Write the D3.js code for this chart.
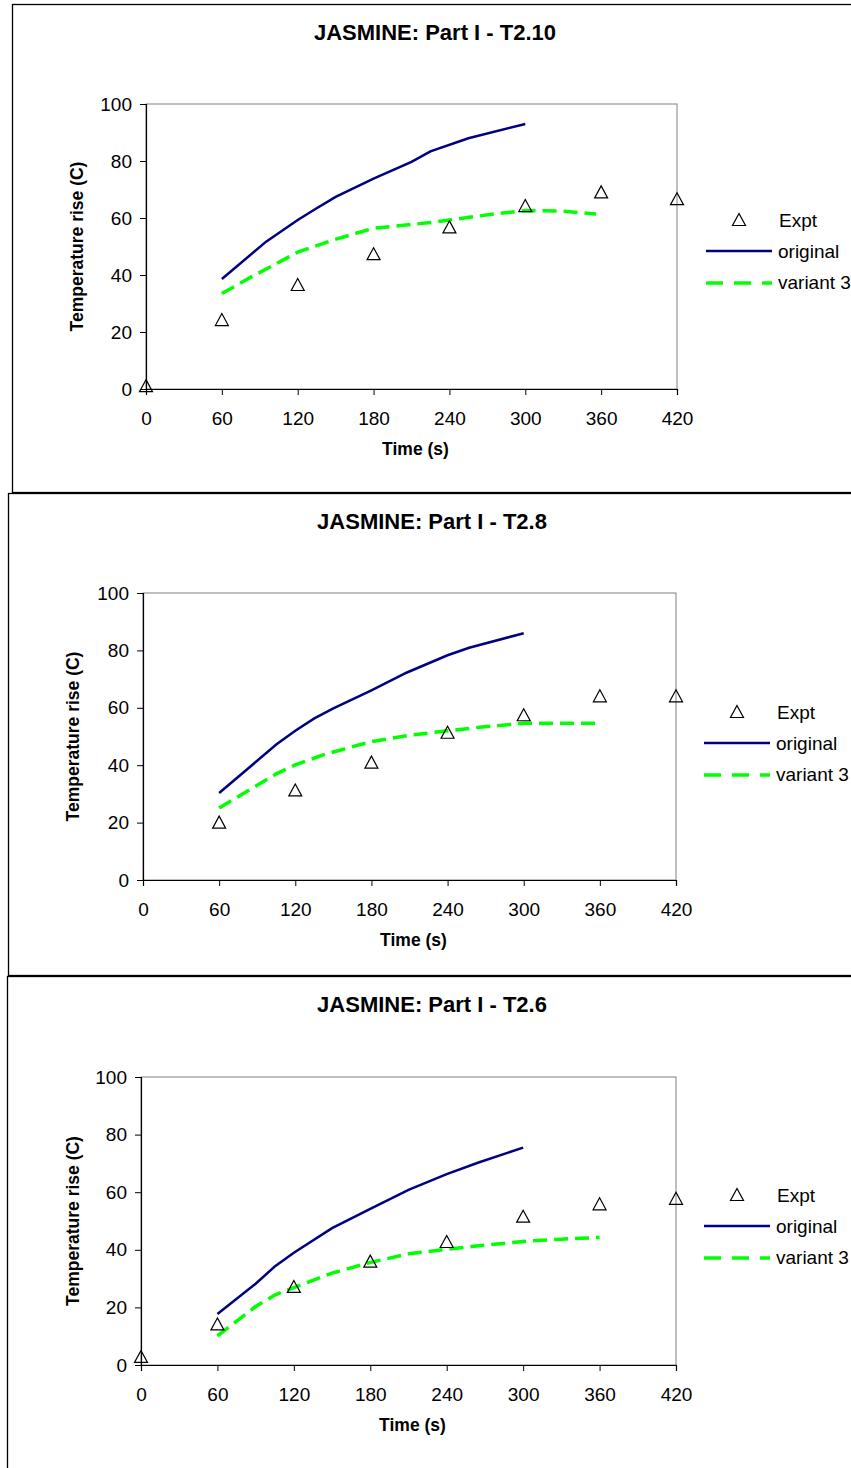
<!DOCTYPE html>
<html>
<head>
<meta charset="utf-8">
<script src="https://cdn.jsdelivr.net/npm/d3@7"></script>
<style>
  body { margin: 0; background: #fff; }
  text { font-family: "Liberation Sans", Arial, sans-serif; }
</style>
</head>
<body>
<div id="chart"></div>
<script>
// tick labels
var timeTicks = [0, 60, 120, 180, 240, 300, 360, 420];
var tempTicks = [0, 20, 40, 60, 80, 100];
var titles = ["JASMINE: Part I - T2.10", "JASMINE: Part I - T2.8", "JASMINE: Part I - T2.6"];
var seriesNames = ["Expt", "original", "variant 3"];

// T2.10
var exptTime1 = [0, 60, 120, 180, 240, 300, 360, 420];
var exptVal1  = [1, 24.2, 36.5, 47.3, 56.7, 64.2, 69, 66.6];
var origTime1 = [60, 95, 120, 135, 150, 180, 210, 225, 255, 300];
var origVal1  = [38.6, 51.7, 59.3, 63.4, 67.4, 73.8, 79.7, 83.4, 88, 93];
var varTime1  = [60, 82, 120, 148, 180, 225, 240, 275, 300, 330, 356];
var varVal1   = [33.5, 39, 48, 52.3, 56.4, 58.4, 59.3, 61.4, 62.6, 62.4, 61.4];

// T2.8
var exptTime2 = [60, 120, 180, 240, 300, 360, 420];
var exptVal2  = [20, 31.2, 40.9, 51.3, 57.4, 64, 64];
var origTime2 = [60, 105, 120, 135, 150, 180, 208, 240, 257, 300];
var origVal2  = [30.3, 47.2, 52, 56.3, 59.8, 66.1, 72.3, 78.3, 80.9, 86];
var varTime2  = [60, 90, 105, 120, 142, 168, 180, 208, 240, 265, 300, 360];
var varVal2   = [25.1, 33, 37, 40.1, 43.6, 46.8, 48.2, 50.3, 52, 53.2, 54.6, 54.6];

// T2.6
var exptTime3 = [0, 60, 120, 180, 240, 300, 360, 420];
var exptVal3  = [2.8, 14.1, 27.1, 35.9, 42.7, 51.5, 55.8, 57.7];
var origTime3 = [60, 90, 105, 120, 150, 180, 210, 240, 265, 300];
var origVal3  = [17.7, 28.2, 34.2, 39, 47.5, 54.2, 60.8, 66.3, 70.3, 75.5];
var varTime3  = [60, 90, 105, 120, 150, 180, 210, 240, 265, 300, 330, 360];
var varVal3   = [10.1, 20.3, 24.3, 26.9, 31.9, 35.6, 38.6, 40.2, 41.4, 42.9, 43.7, 44.3];

var panels = [
  {title: titles[0], expt: [exptTime1, exptVal1], orig: [origTime1, origVal1], vari: [varTime1, varVal1],
   box: {x: 12, y: 4, h: 488}, l: 146, t: 104, r: 677, b: 389, cx: 435, ylx: 77, leg: {x: 706, y: 220}},
  {title: titles[1], expt: [exptTime2, exptVal2], orig: [origTime2, origVal2], vari: [varTime2, varVal2],
   box: {x: 8, y: 493, h: 482}, l: 143, t: 593, r: 676, b: 880, cx: 432, ylx: 73, leg: {x: 704, y: 712}},
  {title: titles[2], expt: [exptTime3, exptVal3], orig: [origTime3, origVal3], vari: [varTime3, varVal3],
   box: {x: 7, y: 976, h: 520}, l: 141, t: 1077, r: 676, b: 1365, cx: 432, ylx: 73, leg: {x: 704, y: 1195}}
];

var svg = d3.select("#chart")
  .append("svg")
  .attr("width", 851)
  .attr("height", 1468);

var tri = "M0,-6.5L6.5,5.5L-6.5,5.5Z";

function zip(a) {
  return a[0].map(function(t, i) { return [t, a[1][i]]; });
}

panels.forEach(function(p) {
  var g = svg.append("g");

  // outer chart box
  g.append("rect")
    .attr("x", p.box.x + 0.5).attr("y", p.box.y + 0.5)
    .attr("width", 900).attr("height", p.box.h)
    .attr("fill", "#fff").attr("stroke", "#000").attr("stroke-width", 1.3);

  var x = d3.scaleLinear().domain([0, 420]).range([p.l, p.r]);
  var y = d3.scaleLinear().domain([0, 100]).range([p.b, p.t]);

  // plot area frame (grey)
  g.append("rect")
    .attr("x", p.l).attr("y", p.t)
    .attr("width", p.r - p.l).attr("height", p.b - p.t)
    .attr("fill", "none").attr("stroke", "#808080").attr("stroke-width", 1);

  var xAxis = g.append("g")
    .attr("transform", "translate(0," + p.b + ")")
    .call(d3.axisBottom(x).tickValues(timeTicks).tickSize(6).tickPadding(17));
  var yAxis = g.append("g")
    .attr("transform", "translate(" + p.l + ",0)")
    .call(d3.axisLeft(y).tickValues(tempTicks).tickSize(6).tickPadding(8));

  [xAxis, yAxis].forEach(function(ax) {
    ax.select(".domain").attr("stroke", "#000").attr("stroke-width", 1.2);
    ax.selectAll(".tick line").attr("stroke", "#000");
    ax.selectAll("text").style("font-size", "19px").attr("fill", "#000")
      .style("font-family", "'Liberation Sans', Arial, sans-serif");
  });

  // title + axis titles
  g.append("text")
    .attr("x", p.cx).attr("y", p.box.y + 36)
    .attr("text-anchor", "middle")
    .style("font-size", "22px").style("font-weight", "bold")
    .text(p.title);

  g.append("text")
    .attr("x", (p.l + p.r) / 2 + 4).attr("y", p.b + 66)
    .attr("text-anchor", "middle")
    .style("font-size", "17.5px").style("font-weight", "bold")
    .text("Time (s)");

  g.append("text")
    .attr("transform", "translate(" + (p.ylx + 6) + "," + ((p.t + p.b) / 2 + 0) + ") rotate(-90)")
    .attr("text-anchor", "middle")
    .style("font-size", "17.5px").style("font-weight", "bold")
    .text("Temperature rise (C)");

  var line = d3.line()
    .x(function(d) { return x(d[0]); })
    .y(function(d) { return y(d[1]); });

  g.append("path")
    .datum(zip(p.orig))
    .attr("d", line)
    .attr("fill", "none").attr("stroke", "#000080").attr("stroke-width", 2.5);

  g.append("path")
    .datum(zip(p.vari))
    .attr("d", line)
    .attr("fill", "none").attr("stroke", "#00ff00").attr("stroke-width", 3.5)
    .attr("stroke-dasharray", "14,7");

  g.selectAll(".pt")
    .data(zip(p.expt))
    .enter()
    .append("path")
    .attr("class", "pt")
    .attr("d", tri)
    .attr("transform", function(d) { return "translate(" + x(d[0]) + "," + y(d[1]) + ")"; })
    .attr("fill", "none").attr("stroke", "#000").attr("stroke-width", 1.2);

  // legend
  var lg = g.append("g").attr("transform", "translate(" + p.leg.x + "," + p.leg.y + ")");
  lg.append("path").attr("d", tri).attr("transform", "translate(33,0)")
    .attr("fill", "none").attr("stroke", "#000").attr("stroke-width", 1.2);
  lg.append("line").attr("x1", 0).attr("x2", 66).attr("y1", 31).attr("y2", 31)
    .attr("stroke", "#000080").attr("stroke-width", 2.5);
  lg.append("line").attr("x1", 0).attr("x2", 66).attr("y1", 63).attr("y2", 63)
    .attr("stroke", "#00ff00").attr("stroke-width", 3.5).attr("stroke-dasharray", "17,11");
  lg.selectAll("text")
    .data(seriesNames)
    .enter()
    .append("text")
    .attr("x", function(d, i) { return i == 0 ? 73 : 72; })
    .attr("y", function(d, i) { return i * 31 + 7; })
    .style("font-size", "19px")
    .text(function(d) { return d; });
});
</script>
</body>
</html>
